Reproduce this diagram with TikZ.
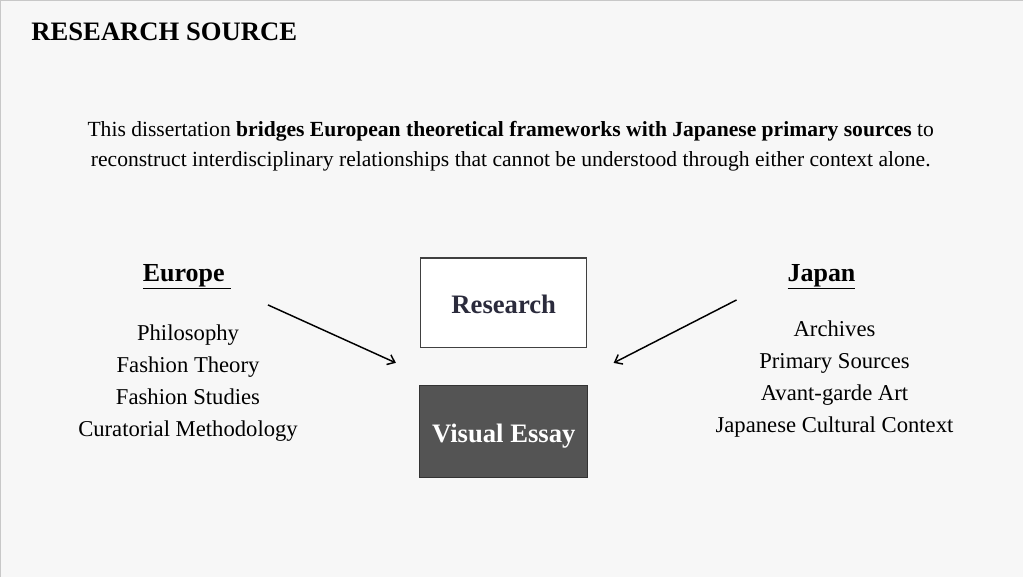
\documentclass[tikz,border=0pt]{standalone}
\usepackage{fontspec}
\setmainfont{Liberation Serif}
\usetikzlibrary{arrows.meta}
\definecolor{pagebg}{HTML}{F7F7F7}
\definecolor{pageline}{HTML}{C8C8C8}
\definecolor{boxink}{HTML}{2B2B3C}
\definecolor{essayfill}{HTML}{545454}
\begin{document}
\begin{tikzpicture}[x=0.75pt,y=-0.75pt]
        % Styles
        \tikzstyle{heading}=[font=\fontsize{20}{24}\selectfont\bfseries,anchor=west,inner sep=0pt]
        \tikzstyle{intro text}=[font=\fontsize{16.2}{22.5}\selectfont,align=center,inner sep=0pt]
        \tikzstyle{side title}=[font=\fontsize{19.5}{22}\selectfont\bfseries,inner sep=0pt]
        \tikzstyle{side list}=[font=\fontsize{17}{23.8}\selectfont,align=center,inner sep=0pt,anchor=north]
        \tikzstyle{research box}=[draw=black!75,fill=white,line width=0.8pt,minimum width=124.5pt,minimum height=67.5pt,font=\fontsize{20}{24}\selectfont\bfseries,text=boxink]
        \tikzstyle{essay box}=[draw=black!80,fill=essayfill,line width=0.8pt,minimum width=126pt,minimum height=69pt,font=\fontsize{20}{24}\selectfont\bfseries,text=white]
        \tikzstyle{link}=[-{Straight Barb[length=5pt,width=8pt]},line width=1.1pt]
        %page
        \fill[pagebg] (0,0) rectangle (1024,577);
        \draw[pageline,line width=1pt] (0.5,577) -- (0.5,0.5) -- (1024,0.5);
        \useasboundingbox (0,0) rectangle (1024,577);
        %texts
        \node[heading] (title) at (31,32) {RESEARCH SOURCE};
        \node[intro text] (intro) at (511,146) {This dissertation \textbf{bridges European theoretical frameworks with Japanese primary sources} to\\
            reconstruct interdisciplinary relationships that cannot be understood through either context alone.};
        %sides
        \node[side title] (europe) at (187,277) {\underline{Europe\ }};
        \node[side list] (europe list) at (188,325) {Philosophy\\Fashion Theory\\Fashion Studies\\Curatorial Methodology};
        \node[side title] (japan) at (822,277) {\underline{Japan}};
        \node[side list] (japan list) at (835,321) {Archives\\Primary Sources\\Avant-garde Art\\Japanese Cultural Context};
        %boxes
        \node[research box] (research) at (504,303) {\raisebox{-0.8pt}[\height][\depth]{Research}};
        \node[essay box] (essay) at (504,432) {\raisebox{-3pt}[\height][\depth]{Visual Essay}};
        %arrows
        \coordinate (europe tail) at (268,305);
        \coordinate (europe head) at (396,363);
        \coordinate (japan tail) at (737,300);
        \coordinate (japan head) at (614,363);
        \draw[link] (europe tail) -- (europe head);
        \draw[link] (japan tail) -- (japan head);
\end{tikzpicture}
\end{document}
